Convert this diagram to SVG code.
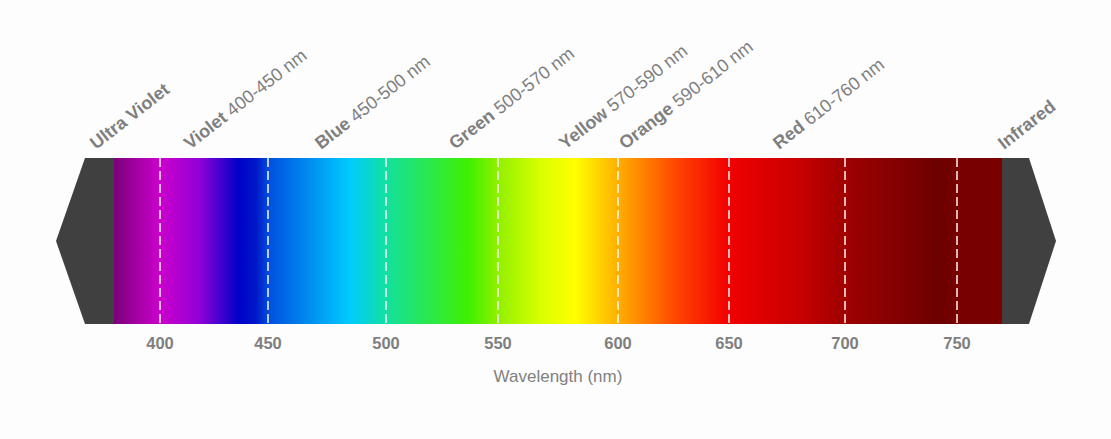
<svg xmlns="http://www.w3.org/2000/svg" width="1111" height="439" viewBox="0 0 1111 439">
  <style>
    .lbl { font-family: "Liberation Sans", Arial, sans-serif; font-size: 18px; fill: #7f7f7f; }
    .b { font-weight: bold; }
    .tick { font-family: "Liberation Sans", Arial, sans-serif; font-size: 16.5px; font-weight: bold; fill: #7f7f7f; text-anchor: middle; }
    .axis { font-family: "Liberation Sans", Arial, sans-serif; font-size: 17px; fill: #808080; text-anchor: middle; }
    .end { fill: #404040; }
    .dash { stroke: #ffffff; stroke-width: 1.6; stroke-dasharray: 9 4; opacity: 0.9; }
  </style>
  <defs>
    <linearGradient id="spec" gradientUnits="userSpaceOnUse" x1="114" y1="0" x2="1002" y2="0">
      <stop offset="0" stop-color="#7a007a"/>
      <stop offset="0.052" stop-color="#cc00cc"/>
      <stop offset="0.097" stop-color="#9000d8"/>
      <stop offset="0.140" stop-color="#0000c8"/>
      <stop offset="0.160" stop-color="#0018c8"/>
      <stop offset="0.175" stop-color="#0050e0"/>
      <stop offset="0.266" stop-color="#00ccff"/>
      <stop offset="0.306" stop-color="#12e0a0"/>
      <stop offset="0.400" stop-color="#40f000"/>
      <stop offset="0.432" stop-color="#90f000"/>
      <stop offset="0.480" stop-color="#d8ff00"/>
      <stop offset="0.519" stop-color="#ffff00"/>
      <stop offset="0.567" stop-color="#ffb000"/>
      <stop offset="0.637" stop-color="#ff4000"/>
      <stop offset="0.692" stop-color="#f20000"/>
      <stop offset="0.772" stop-color="#c80000"/>
      <stop offset="0.823" stop-color="#a00000"/>
      <stop offset="0.930" stop-color="#6c0000"/>
      <stop offset="0.950" stop-color="#780000"/>
      <stop offset="1" stop-color="#7a0000"/>
    </linearGradient>
  </defs>
  <rect width="1111" height="439" fill="#fdfdfd"/>

  <g id="ultraviolet-end">
    <polygon class="end" points="85,158 114,158 114,324 85,324 56,241"/>
  </g>
  <g id="spectrum-bar">
    <rect x="114" y="158" width="888" height="166" fill="url(#spec)"/>
  </g>
  <g id="infrared-end">
    <polygon class="end" points="1002,158 1029,158 1056,241 1029,324 1002,324"/>
  </g>

  <g id="dividers">
    <line class="dash" x1="160" y1="158" x2="160" y2="324"/>
    <line class="dash" x1="268" y1="158" x2="268" y2="324"/>
    <line class="dash" x1="386" y1="158" x2="386" y2="324"/>
    <line class="dash" x1="498" y1="158" x2="498" y2="324"/>
    <line class="dash" x1="618" y1="158" x2="618" y2="324"/>
    <line class="dash" x1="729" y1="158" x2="729" y2="324"/>
    <line class="dash" x1="845" y1="158" x2="845" y2="324"/>
    <line class="dash" x1="957" y1="158" x2="957" y2="324"/>
  </g>

  <g id="band-labels">
    <text class="lbl b" transform="translate(96,150) rotate(-38)">Ultra Violet</text>
    <text class="lbl" transform="translate(190,150) rotate(-38)"><tspan class="b">Violet</tspan> 400-450 nm</text>
    <text class="lbl" transform="translate(321,150) rotate(-38)"><tspan class="b">Blue</tspan> 450-500 nm</text>
    <text class="lbl" transform="translate(455,150) rotate(-38)"><tspan class="b">Green</tspan> 500-570 nm</text>
    <text class="lbl" transform="translate(565,150) rotate(-38)"><tspan class="b">Yellow</tspan> 570-590 nm</text>
    <text class="lbl" transform="translate(625,150) rotate(-38)"><tspan class="b">Orange</tspan> 590-610 nm</text>
    <text class="lbl" transform="translate(779,150) rotate(-38)"><tspan class="b">Red</tspan> 610-760 nm</text>
    <text class="lbl b" transform="translate(1004,150) rotate(-38)">Infrared</text>
  </g>

  <g id="axis">
    <text class="tick" x="160" y="349">400</text>
    <text class="tick" x="268" y="349">450</text>
    <text class="tick" x="386" y="349">500</text>
    <text class="tick" x="498" y="349">550</text>
    <text class="tick" x="618" y="349">600</text>
    <text class="tick" x="729" y="349">650</text>
    <text class="tick" x="845" y="349">700</text>
    <text class="tick" x="957" y="349">750</text>
    <text class="axis" x="558" y="382">Wavelength (nm)</text>
  </g>
</svg>
